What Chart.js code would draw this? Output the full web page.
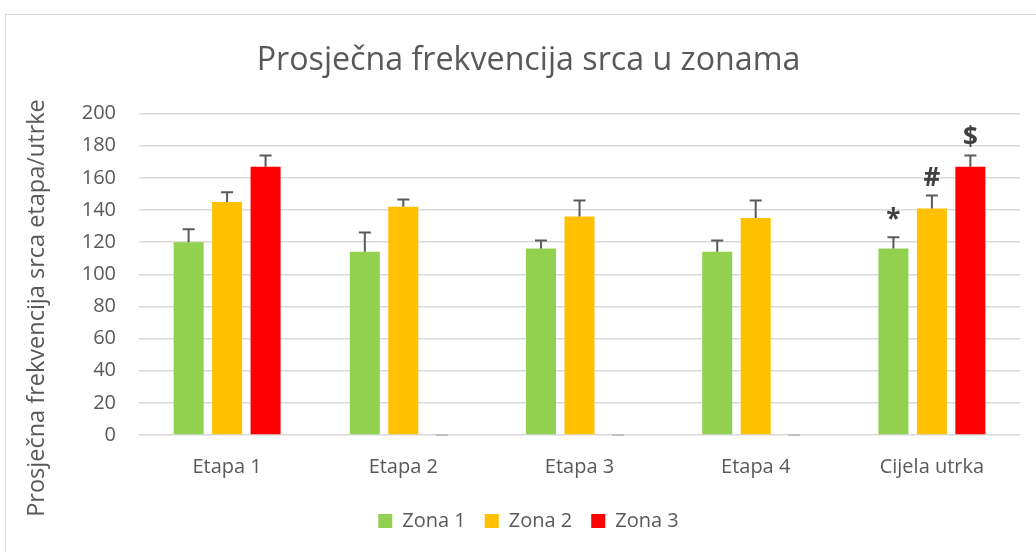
<!DOCTYPE html>
<html>
<head>
<meta charset="utf-8">
<script src="https://cdn.jsdelivr.net/npm/chart.js@4.4.0/dist/chart.umd.min.js"></script>
<style>
    html, body { margin: 0; padding: 0; background: #fff; overflow: hidden; }
    #frame { position: absolute; left: 5px; top: 14px; width: 1040px; height: 560px; border: 1px solid #d9d9d9; }
    #wrap { position: absolute; left: 0; top: 0; width: 1036px; height: 552px; }
</style>
</head>
<body>
<div id="frame"></div>
<div id="wrap"><canvas id="zoneChart"></canvas></div>
<script>
// Data
const categories = ['Etapa 1', 'Etapa 2', 'Etapa 3', 'Etapa 4', 'Cijela utrka'];
const seriesNames = ['Zona 1', 'Zona 2', 'Zona 3'];
const zona1 = [120, 114, 116, 114, 116];
const zona2 = [145, 142, 136, 135, 141];
const zona3 = [167, 0, 0, 0, 167];
const zona1Err = [8, 12, 5, 7, 7];
const zona2Err = [6, 4.5, 10, 11, 8];
const zona3Err = [7, 0, 0, 0, 7];
const zona1Marks = ['', '', '', '', '*'];
const zona2Marks = ['', '', '', '', '#'];
const zona3Marks = ['', '', '', '', '$'];
const yTicks = [0, 20, 40, 60, 80, 100, 120, 140, 160, 180, 200];
const yTitle = 'Prosječna frekvencija srca etapa/utrke';

const colors = ['#92d050', '#ffc000', '#ff0000'];
const textGrey = '#595959';
const fontFamily = "'Open Sans', sans-serif";

// error bars + significance markers drawn through the scales
const errorBarPlugin = {
    id: 'errorBars',
    afterDatasetsDraw(chart) {
        const ctx = chart.ctx;
        const yScale = chart.scales.y;
        ctx.save();
        chart.data.datasets.forEach((ds, i) => {
            const meta = chart.getDatasetMeta(i);
            meta.data.forEach((bar, j) => {
                const v = ds.data[j];
                const e = ds.errors[j];
                const yTop = yScale.getPixelForValue(v + e);
                const yBase = yScale.getPixelForValue(v);
                ctx.strokeStyle = e > 0 ? textGrey : '#bfbfbf';
                ctx.lineWidth = 2;
                ctx.beginPath();
                ctx.moveTo(bar.x, yBase);
                ctx.lineTo(bar.x, yTop);
                ctx.moveTo(bar.x - 6, yTop);
                ctx.lineTo(bar.x + 6, yTop);
                ctx.stroke();
                const mark = ds.marks[j];
                if (mark) {
                    ctx.fillStyle = '#404040';
                    ctx.font = "bold 26px " + fontFamily;
                    ctx.textAlign = 'center';
                    ctx.textBaseline = 'bottom';
                    ctx.fillText(mark, bar.x, yTop - 4);
                }
            });
        });
        ctx.restore();
    }
};

// y axis title, centred like Excel does it (lower than the plot centre)
const yTitlePlugin = {
    id: 'yTitle',
    afterDraw(chart) {
        const ctx = chart.ctx;
        ctx.save();
        ctx.translate(37, 308);
        ctx.rotate(-Math.PI / 2);
        ctx.fillStyle = textGrey;
        ctx.font = "23.5px " + fontFamily;
        ctx.textAlign = 'center';
        ctx.textBaseline = 'middle';
        ctx.fillText(yTitle, 0, 0);
        ctx.restore();
    }
};

const seriesValues = [zona1, zona2, zona3];
const seriesErrors = [zona1Err, zona2Err, zona3Err];
const seriesMarks = [zona1Marks, zona2Marks, zona3Marks];

const datasets = seriesNames.map((name, i) => ({
    label: name,
    data: seriesValues[i],
    errors: seriesErrors[i],
    marks: seriesMarks[i],
    backgroundColor: colors[i],
    borderWidth: 0,
    categoryPercentage: 0.655,
    barPercentage: 0.78
}));

new Chart(document.getElementById('zoneChart'), {
    type: 'bar',
    data: { labels: categories, datasets: datasets },
    plugins: [errorBarPlugin, yTitlePlugin],
    options: {
        responsive: true,
        maintainAspectRatio: false,
        animation: false,
        layout: { padding: { left: 37, right: 16, top: 0, bottom: 11 } },
        plugins: {
            title: {
                display: true,
                text: 'Prosječna frekvencija srca u zonama',
                color: textGrey,
                font: { family: fontFamily, size: 32.2, weight: 'normal' },
                padding: { top: 42, bottom: 33 }
            },
            legend: {
                position: 'bottom',
                labels: {
                    color: textGrey,
                    font: { family: fontFamily, size: 20 },
                    boxWidth: 14,
                    boxHeight: 14,
                    padding: 19
                }
            },
            tooltip: { enabled: false }
        },
        scales: {
            x: {
                grid: { display: false, drawTicks: false },
                border: { display: false },
                ticks: {
                    color: textGrey,
                    font: { family: fontFamily, size: 20 },
                    padding: 20
                },
                afterFit: scale => { scale.height = 57; }
            },
            y: {
                min: 0,
                max: 200,
                afterBuildTicks: axis => { axis.ticks = yTicks.map(v => ({ value: v })); },
                grid: { color: '#d9d9d9', lineWidth: 1.5, drawTicks: false },
                border: { display: false },
                ticks: {
                    color: textGrey,
                    font: { family: fontFamily, size: 20 },
                    padding: 23
                },
                afterFit: scale => { scale.width = 102; }
            }
        }
    }
});
</script>
</body>
</html>
